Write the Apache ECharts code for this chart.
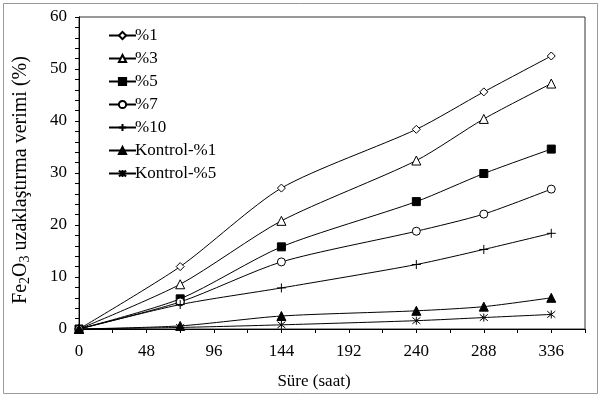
<!DOCTYPE html>
<html>
<head>
<meta charset="utf-8">
<script src="https://cdn.jsdelivr.net/npm/echarts@6/dist/echarts.min.js"></script>
<style>
  html, body { margin: 0; padding: 0; background: #fff; }
  #chart { width: 603px; height: 397px; }
</style>
</head>
<body>
<div id="chart"></div>
<script>
// saat (hours)
var hours = [0, 72, 144, 240, 288, 336]

var p1 = [0, 12.0, 27.1, 38.4, 45.6, 52.5]
var p3 = [0, 8.6, 20.8, 32.4, 40.4, 47.2]
var p5 = [0, 5.8, 15.8, 24.5, 29.9, 34.6]
var p7 = [0, 5.2, 12.9, 18.8, 22.1, 26.9]
var p10 = [0, 4.7, 7.9, 12.4, 15.3, 18.4]
var k1 = [0, 0.6, 2.5, 3.5, 4.3, 6.0]
var k5 = [0, 0.3, 0.8, 1.6, 2.2, 2.8]

var seriesNames = ['%1', '%3', '%5', '%7', '%10', 'Kontrol-%1', 'Kontrol-%5']

var FONT = "'Liberation Serif', 'Times New Roman', serif"
var PLUS = 'path://M0,5L10,5M5,0L5,10'
var STAR = 'path://M1,1L9,9M9,1L1,9M5,0L5,10'

function pairs(vals) {
  return hours.map(function(h, i) { return [h, vals[i]] })
}

function makeSeries(name, vals, symbol, size, filled) {
  return {
    name: name,
    type: 'line',
    smooth: 0.25,
    data: pairs(vals),
    symbol: symbol,
    symbolSize: size,
    showAllSymbol: true,
    lineStyle: { color: '#000', width: 1 },
    itemStyle: {
      color: filled ? '#000' : '#fff',
      borderColor: '#000',
      borderWidth: 1
    },
    emphasis: { disabled: true },
    z: 3
  }
}

var chart = echarts.init(document.getElementById('chart'))
chart.setOption({
  animation: false,
  backgroundColor: '#fff',
  textStyle: { fontFamily: FONT, color: '#000' },
  graphic: [{
    type: 'rect',
    shape: { x: 3.5, y: 3.5, width: 594, height: 390 },
    style: { fill: 'none', stroke: '#999', lineWidth: 1 },
    silent: true
  }],
  grid: {
    left: 79,
    right: 18,
    top: 17,
    bottom: 68,
    show: true,
    borderColor: '#333',
    borderWidth: 1
  },
  legend: {
    orient: 'vertical',
    left: 103,
    top: 22,
    itemWidth: 27,
    itemHeight: 9,
    itemGap: 6,
    data: seriesNames,
    textStyle: { fontFamily: FONT, fontSize: 17, lineHeight: 16, color: '#000', padding: [0, 0, 0, -6] }
  },
  xAxis: {
    type: 'value',
    min: 0,
    max: 360,
    interval: 24,
    name: 'Süre (saat)',
    nameLocation: 'middle',
    nameGap: 44,
    nameTextStyle: { fontFamily: FONT, fontSize: 17, color: '#000', padding: [0, 36, 0, 0] },
    axisLine: { lineStyle: { color: '#000', width: 1 } },
    axisTick: { show: true, length: 4, lineStyle: { color: '#000' } },
    splitLine: { show: false },
    axisLabel: {
      fontFamily: FONT,
      fontSize: 17,
      color: '#000',
      margin: 14,
      formatter: function(v) {
        return (v % 48 === 0 && v <= 336) ? String(v) : ''
      }
    }
  },
  yAxis: {
    type: 'value',
    min: 0,
    max: 60,
    interval: 2,
    name: 'Fe{sub|2}O{sub|3} uzaklaştırma verimi (%)',
    nameLocation: 'middle',
    nameGap: 47,
    nameTextStyle: {
      fontFamily: FONT,
      fontSize: 20,
      color: '#000',
      padding: [0, 14, 0, 0],
      rich: {
        sub: { fontFamily: FONT, fontSize: 14, color: '#000', verticalAlign: 'bottom', padding: [9, 0, 0, 0] }
      }
    },
    axisLine: { show: true, lineStyle: { color: '#000', width: 1 } },
    axisTick: { show: true, length: 4, lineStyle: { color: '#000' } },
    splitLine: { show: false },
    axisLabel: {
      fontFamily: FONT,
      fontSize: 17,
      color: '#000',
      margin: 12,
      formatter: function(v) {
        return v % 10 === 0 ? String(v) : ''
      }
    }
  },
  series: [
    makeSeries('%1', p1, 'diamond', 8, false),
    makeSeries('%3', p3, 'triangle', 9, false),
    makeSeries('%5', p5, 'rect', 8, true),
    makeSeries('%7', p7, 'circle', 8, false),
    makeSeries('%10', p10, PLUS, 9, false),
    makeSeries('Kontrol-%1', k1, 'triangle', 9, true),
    makeSeries('Kontrol-%5', k5, STAR, 8, false)
  ]
})
</script>
</body>
</html>
